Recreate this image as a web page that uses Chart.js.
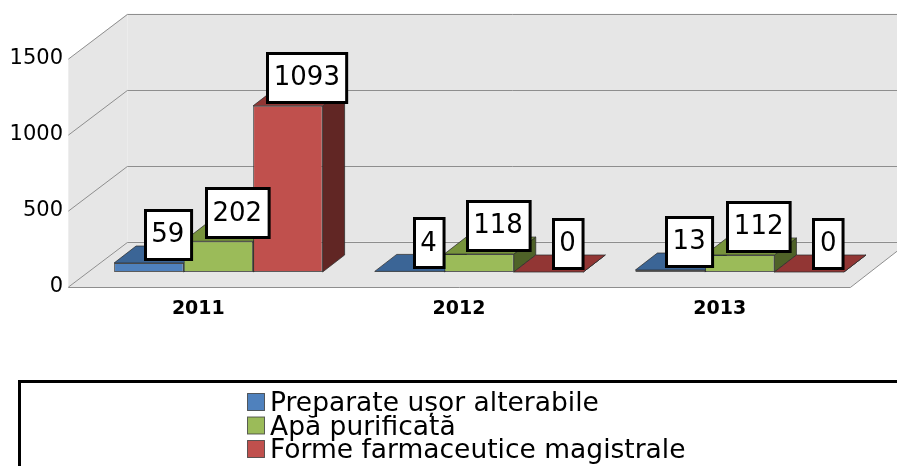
<!DOCTYPE html>
<html><head><meta charset="utf-8">
<script src="https://cdn.jsdelivr.net/npm/chart.js@4.4.1/dist/chart.umd.min.js"></script>
<style>html,body{margin:0;padding:0;background:#fff}canvas{display:block}</style>
</head><body>
<canvas id="c" width="897" height="466"></canvas>
<script>
const categories = ['2011', '2012', '2013'];
const seriesNames = ['Preparate ușor alterabile', 'Apă purificată', 'Forme farmaceutice magistrale'];
const preparateValues = [59, 4, 13];
const apaValues = [202, 118, 112];
const formeValues = [1093, 0, 0];
const yTicks = [0, 500, 1000, 1500];

const frontColors = ['#4F81BD', '#9BBB59', '#C0504D'];
const topColors = ['#3B6596', '#77933C', '#923634'];
const sideColors = ['#2C4D75', '#4F6228', '#612624'];
const wallColor = '#E6E6E6';
const gridColor = '#8E8E8E';
const edgeColor = 'rgba(45,45,45,0.75)';

const WALL_DX = 59, WALL_DY = -45.5, BAR_FRAC = 1 / 3;
const BAR_DX = 22, BAR_DY = -17;

function poly(ctx, pts, fill, stroke) {
  ctx.beginPath();
  ctx.moveTo(pts[0][0], pts[0][1]);
  for (let i = 1; i < pts.length; i++) ctx.lineTo(pts[i][0], pts[i][1]);
  ctx.closePath();
  if (fill) { ctx.fillStyle = fill; ctx.fill(); }
  if (stroke) { ctx.strokeStyle = stroke; ctx.lineWidth = 1; ctx.stroke(); }
}

const wallsPlugin = {
  id: 'walls',
  beforeDraw(chart) {
    const ctx = chart.ctx, ca = chart.chartArea, ys = chart.scales.y;
    const fx = -WALL_DX * BAR_FRAC, fy = -WALL_DY * BAR_FRAC;
    const bx = WALL_DX * (1 - BAR_FRAC), by = WALL_DY * (1 - BAR_FRAC);
    const L = ca.left, R = ca.right;
    const y0 = ys.getPixelForValue(0), yM = ys.getPixelForValue(ys.max);
    ctx.save();
    poly(ctx, [[L + bx, yM + by], [R + bx, yM + by], [R + bx, y0 + by], [L + bx, y0 + by]], wallColor);
    poly(ctx, [[L + fx, yM + fy], [L + bx, yM + by], [L + bx, y0 + by], [L + fx, y0 + fy]], wallColor);
    poly(ctx, [[L + fx, y0 + fy], [R + fx, y0 + fy], [R + bx, y0 + by], [L + bx, y0 + by]], wallColor);
    ctx.strokeStyle = gridColor;
    ctx.lineWidth = 1;
    yTicks.forEach(v => {
      const y = ys.getPixelForValue(v);
      const yb = Math.round(y + by) + 0.5;
      ctx.beginPath();
      ctx.moveTo(L + fx, y + fy);
      ctx.lineTo(L + bx, yb);
      ctx.lineTo(R + bx + 40, yb);
      ctx.stroke();
    });
    const yf = Math.round(y0 + fy) + 0.5;
    ctx.beginPath();
    ctx.moveTo(L + fx, yf);
    ctx.lineTo(R + fx, yf);
    ctx.lineTo(R + bx, y0 + by);
    ctx.stroke();
    ctx.restore();
  }
};

const extrudePlugin = {
  id: 'extrude',
  beforeDatasetsDraw(chart) {
    const ctx = chart.ctx;
    ctx.save();
    ctx.lineJoin = 'round';
    categories.forEach((c, i) => {
      chart.data.datasets.forEach((ds, d) => {
        const el = chart.getDatasetMeta(d).data[i];
        const p = el.getProps(['x', 'y', 'base', 'width'], true);
        const x1 = p.x - p.width / 2, x2 = p.x + p.width / 2;
        const top = Math.min(p.y, p.base), base = Math.max(p.y, p.base);
        poly(ctx, [[x2, top], [x2 + BAR_DX, top + BAR_DY], [x2 + BAR_DX, base + BAR_DY], [x2, base]], sideColors[d], edgeColor);
        poly(ctx, [[x1, top], [x2, top], [x2 + BAR_DX, top + BAR_DY], [x1 + BAR_DX, top + BAR_DY]], topColors[d], edgeColor);
      });
    });
    ctx.restore();
  }
};

const labelsPlugin = {
  id: 'boxLabels',
  afterDatasetsDraw(chart) {
    const ctx = chart.ctx;
    ctx.save();
    ctx.font = '26px "DejaVu Sans"';
    ctx.textAlign = 'center';
    ctx.textBaseline = 'middle';
    categories.forEach((c, i) => {
      chart.data.datasets.forEach((ds, d) => {
        const el = chart.getDatasetMeta(d).data[i];
        const p = el.getProps(['x', 'y', 'base', 'width'], true);
        const txt = String(ds.data[i]);
        const cx = p.x + BAR_DX / 2 + 8;
        const cy = p.y + BAR_DY / 2 - 20;
        const w = ctx.measureText(txt).width + 13, h = 49;
        const rx = Math.round(cx - w / 2) + 0.5, ry = Math.round(cy - h / 2) + 0.5;
        ctx.fillStyle = '#fff';
        ctx.fillRect(rx, ry, w, h);
        ctx.lineWidth = 3;
        ctx.strokeStyle = '#000';
        ctx.strokeRect(rx, ry, w, h);
        ctx.fillStyle = '#000';
        ctx.fillText(txt, cx, cy + 1);
      });
    });
    ctx.restore();
  }
};

const legendPlugin = {
  id: 'boxLegend',
  afterDraw(chart) {
    const ctx = chart.ctx;
    ctx.save();
    ctx.lineWidth = 3;
    ctx.strokeStyle = '#000';
    ctx.strokeRect(19.5, 381.5, 900, 120);
    ctx.font = '26.5px "DejaVu Sans"';
    ctx.textAlign = 'left';
    ctx.textBaseline = 'alphabetic';
    chart.data.datasets.forEach((ds, d) => {
      const sy = 393.5 + d * 23.5;
      ctx.fillStyle = ds.backgroundColor;
      ctx.fillRect(247.5, sy, 17, 17);
      ctx.lineWidth = 1;
      ctx.strokeStyle = 'rgba(60,60,60,0.8)';
      ctx.strokeRect(247.5, sy, 17, 17);
      ctx.fillStyle = '#000';
      ctx.fillText(ds.label, 270, sy + 17.5);
    });
    ctx.restore();
  }
};

const datasetValues = [preparateValues, apaValues, formeValues];

new Chart(document.getElementById('c'), {
  type: 'bar',
  data: {
    labels: categories,
    datasets: datasetValues.map((vals, d) => ({
      label: seriesNames[d],
      data: vals,
      backgroundColor: frontColors[d],
      borderColor: edgeColor,
      borderWidth: 1,
      borderSkipped: false,
      categoryPercentage: 0.8,
      barPercentage: 1
    }))
  },
  options: {
    responsive: false,
    animation: false,
    devicePixelRatio: 1,
    layout: { padding: { top: 44, right: 27, left: 0, bottom: 0 } },
    plugins: { legend: { display: false }, tooltip: { enabled: false } },
    scales: {
      x: {
        grid: { display: false, drawTicks: false },
        border: { display: false },
        ticks: { font: { family: 'DejaVu Sans', size: 19, weight: 'bold' }, color: '#000', padding: 26, labelOffset: -20, maxRotation: 0 },
        afterFit(s) { s.height = 194; }
      },
      y: {
        min: 0, max: 1500,
        grid: { display: false, drawTicks: false },
        border: { display: false },
        ticks: { font: { family: 'DejaVu Sans', size: 21 }, color: '#000', padding: 25, labelOffset: 15, callback: v => String(v) },
        afterBuildTicks(s) { s.ticks = yTicks.map(v => ({ value: v })); },
        afterFit(s) { s.width = 88; }
      }
    }
  },
  plugins: [wallsPlugin, extrudePlugin, labelsPlugin, legendPlugin]
});
</script>
</body></html>
